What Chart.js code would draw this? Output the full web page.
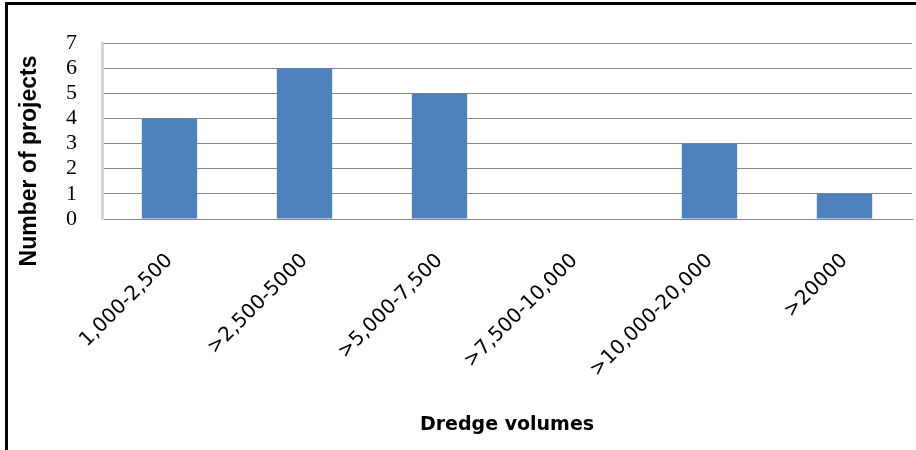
<!DOCTYPE html>
<html>
<head>
<meta charset="utf-8">
<script src="https://cdn.jsdelivr.net/npm/chart.js@4"></script>
<style>
    html, body { margin: 0; padding: 0; background: #fff; overflow: hidden; }
    #chart { display: block; }
</style>
</head>
<body>
<canvas id="chart" width="916" height="450"></canvas>
<script>
const categories = ['1,000-2,500', '>2,500-5000', '>5,000-7,500', '>7,500-10,000', '>10,000-20,000', '>20000'];
const projectCounts = [4, 6, 5, 0, 3, 1];
const yMin = 0;
const yMax = 7;
const yStep = 1;
const xTitle = 'Dredge volumes';
const yTitle = 'Number of projects';

// black frame on the top and left edge only, like the cropped original
const framePlugin = {
    id: 'frame',
    beforeDraw(chart) {
        const ctx = chart.ctx;
        ctx.save();
        ctx.fillStyle = '#000';
        ctx.fillRect(5, 2, chart.width - 5, 3);
        ctx.fillRect(5, 2, 3, chart.height - 2);
        ctx.restore();
    }
};

// y title sits a bit below the axis centre in the original, so draw it by hand
const yTitlePlugin = {
    id: 'yTitle',
    afterDraw(chart) {
        const ctx = chart.ctx;
        ctx.save();
        ctx.translate(30, 161);
        ctx.rotate(-Math.PI / 2);
        ctx.font = 'bold 23px "Liberation Sans", Arial, sans-serif';
        ctx.fillStyle = '#000';
        ctx.textAlign = 'center';
        ctx.textBaseline = 'middle';
        ctx.fillText(yTitle, 0, 0);
        ctx.restore();
    }
};

const ctx = document.getElementById('chart').getContext('2d');

const chart = new Chart(ctx, {
    type: 'bar',
    data: {
        labels: categories,
        datasets: [{
            label: yTitle,
            data: projectCounts,
            backgroundColor: '#4f81bd',
            categoryPercentage: 1,
            barPercentage: 0.41,
        }],
    },
    options: {
        responsive: false,
        animation: false,
        layout: {
            padding: { top: 43, right: 4, left: 0, bottom: 0 }
        },
        plugins: {
            legend: { display: false },
            tooltip: { enabled: false },
        },
        scales: {
            x: {
                grid: { display: false, drawTicks: false },
                border: { color: '#868686', width: 1 },
                ticks: {
                    autoSkip: false,
                    minRotation: 45,
                    maxRotation: 45,
                    padding: 30,
                    color: '#000',
                    font: { family: '"DejaVu Sans", sans-serif', size: 20 }
                },
                title: {
                    display: true,
                    text: xTitle,
                    color: '#000',
                    font: { family: '"DejaVu Sans", sans-serif', size: 19, weight: 'bold' },
                    padding: { top: 0, bottom: 14 }
                },
                afterFit: (scale) => { scale.height = 231; }
            },
            y: {
                min: yMin,
                max: yMax,
                grid: { color: '#868686', lineWidth: 1, drawTicks: false },
                border: { color: '#d4d4d4', width: 3 },
                ticks: {
                    stepSize: yStep,
                    autoSkip: false,
                    padding: 25,
                    color: '#000',
                    font: { family: '"Liberation Serif", "DejaVu Serif", serif', size: 22, lineHeight: 1 }
                },
                afterFit: (scale) => { scale.width = 102; }
            }
        }
    },
    plugins: [framePlugin, yTitlePlugin]
});
</script>
</body>
</html>
